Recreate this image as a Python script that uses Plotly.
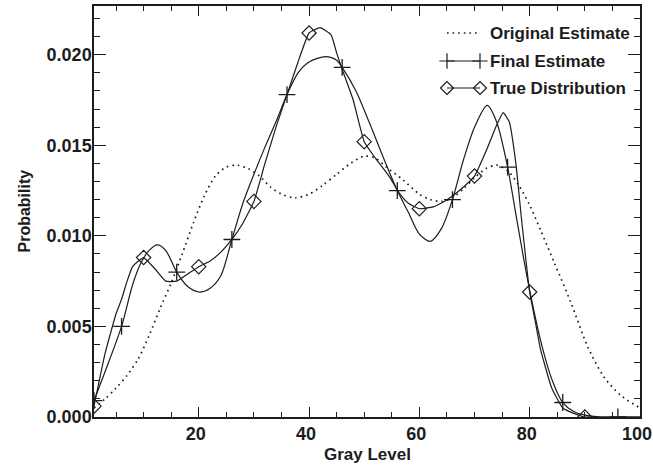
import plotly.graph_objects as go

# ---- data -----------------------------------------------------------------
# Original estimate of the gray-level distribution
orig_x = [1, 3, 5, 7, 9, 11, 13, 15, 17, 19, 21, 23, 25, 27, 29, 31, 33, 35,
          37.5, 40, 42.5, 45, 47.5, 50, 52, 54, 57, 60, 62, 64, 66, 68, 70,
          72, 74, 76, 78, 80, 82, 84.5, 87.5, 90.5, 93.5, 96.5, 100]
orig_p = [0.0005, 0.0010, 0.0016, 0.0023, 0.0032, 0.0045, 0.0060, 0.0074,
          0.0090, 0.0107, 0.0122, 0.0133, 0.0138, 0.0139, 0.0137, 0.0133,
          0.0127, 0.0123, 0.0121, 0.0123, 0.0128, 0.0134, 0.0140, 0.0144,
          0.0143, 0.0138, 0.0131, 0.0123, 0.0120, 0.0119, 0.0121, 0.0126,
          0.0132, 0.0137, 0.0139, 0.0136, 0.0128, 0.0117, 0.0103, 0.0085,
          0.0063, 0.0039, 0.0022, 0.0012, 0.0005]

# Final estimate after iteration
final_x = [1, 3, 6, 8, 9.5, 11, 12.5, 14, 16, 18, 20, 22, 24, 26, 28, 30, 32,
           34, 36, 38, 40, 43, 45, 46, 48.5, 51, 53.5, 56, 58, 60, 62, 64, 66,
           68, 70, 72.3, 74, 76, 77.5, 79, 80, 82, 84, 86, 88, 90, 93, 96, 100]
final_p = [0.0009, 0.0025, 0.0050, 0.0073, 0.0085, 0.0092, 0.0095, 0.0092,
           0.0080, 0.0072, 0.0069, 0.0071, 0.0078, 0.0098, 0.0118, 0.0134,
           0.0149, 0.0163, 0.0178, 0.0190, 0.0196, 0.0199, 0.0197, 0.0193,
           0.0180, 0.0162, 0.0143, 0.0125, 0.0113, 0.0101, 0.0097, 0.0104,
           0.0120, 0.0142, 0.0160, 0.0172, 0.0163, 0.0138, 0.0112, 0.0086,
           0.0070, 0.0042, 0.0021, 0.0008, 0.0003, 0.0001, 0.0, 0.0, 0.0]
final_marks = [1, 6, 16, 26, 36, 46, 56, 66, 76, 86, 96]

# True distribution
true_x = [1, 3, 5, 6, 7, 8, 9, 10, 12, 14, 16, 18, 20, 22, 24, 26, 28, 30, 32,
          34, 36, 38, 40, 42, 44, 45, 46, 48, 50, 52, 54.5, 56.5, 58, 60, 62.5,
          64.5, 66, 68, 70, 72.4, 74, 75.2, 76.3, 77.5, 78.5, 80, 81, 82, 84,
          86, 88, 90, 95, 100]
true_p = [0.0006, 0.0035, 0.0057, 0.0065, 0.0075, 0.0083, 0.0086, 0.0088,
          0.0082, 0.0075, 0.0075, 0.0079, 0.0083, 0.0086, 0.0091, 0.0098,
          0.0107, 0.0119, 0.0140, 0.0160, 0.0178, 0.0196, 0.0212, 0.0215,
          0.0211, 0.0201, 0.0192, 0.0175, 0.0152, 0.0143, 0.0133, 0.0123,
          0.0118, 0.0115, 0.0116, 0.0119, 0.0122, 0.0127, 0.0133, 0.0149,
          0.0161, 0.0168, 0.0163, 0.0140, 0.0110, 0.0069, 0.0053, 0.0037,
          0.0016, 0.0005, 0.0002, 0.0, 0.0, 0.0]
true_marks = [1, 10, 20, 30, 40, 50, 60, 70, 80, 90]

legend_labels = ["Original Estimate", "Final Estimate", "True Distribution"]
x_ticks = [20, 40, 60, 80, 100]
y_ticks = [0.000, 0.005, 0.010, 0.015, 0.020]

# ---- styling ----------------------------------------------------------------
INK = "#1c1c1c"
FONT = "Liberation Sans, Arial, Helvetica, sans-serif"
W, H = 653, 467
M_L, M_R, M_T, M_B = 94, 13, 6, 50


def pick(xs, ys, keep):
    pts = [(x, y) for x, y in zip(xs, ys) if x in keep]
    return [p[0] for p in pts], [p[1] for p in pts]


def bold(s):
    return f"<b>{s}</b>"


fig = go.Figure()

fig.add_trace(go.Scatter(
    x=orig_x, y=orig_p, mode="lines", showlegend=False,
    line=dict(color=INK, width=1.7, dash="1.6px,4px", shape="spline", smoothing=0.8),
))
fig.add_trace(go.Scatter(
    x=final_x, y=final_p, mode="lines", showlegend=False,
    line=dict(color=INK, width=1.2, shape="spline", smoothing=0.8),
))
fig.add_trace(go.Scatter(
    x=true_x, y=true_p, mode="lines", showlegend=False,
    line=dict(color=INK, width=1.2, shape="spline", smoothing=0.4),
))

fx, fy = pick(final_x, final_p, final_marks)
fig.add_trace(go.Scatter(
    x=fx, y=fy, mode="markers", showlegend=False,
    marker=dict(symbol="cross-thin-open", size=12, color=INK, line=dict(color=INK, width=1.3)),
))
tx, ty = pick(true_x, true_p, true_marks)
fig.add_trace(go.Scatter(
    x=tx, y=ty, mode="markers", showlegend=False,
    marker=dict(symbol="diamond-open", size=11, color=INK, line=dict(color=INK, width=1.2)),
))

# ---- hand-drawn key on an overlay axis measured in pixels -------------------
key_rows = [33, 61, 88]
key_x0, key_x1, key_text_x = 447, 480, 488
key_styles = [
    dict(line=dict(color=INK, width=1.7, dash="1.6px,4px"), mode="lines"),
    dict(line=dict(color=INK, width=1.0), mode="lines+markers",
         marker=dict(symbol="cross-thin-open", size=11, line=dict(color=INK, width=1.2))),
    dict(line=dict(color=INK, width=1.2), mode="lines+markers",
         marker=dict(symbol="diamond-open", size=10, color=INK, line=dict(color=INK, width=1.2))),
]
for row, style in zip(key_rows, key_styles):
    fig.add_trace(go.Scatter(x=[key_x0, key_x1], y=[row, row], xaxis="x2", yaxis="y2",
                             showlegend=False, hoverinfo="skip", cliponaxis=False, **style))

for row, label in zip(key_rows, legend_labels):
    fig.add_annotation(x=key_text_x, y=row, xref="x2", yref="y2", text=bold(label),
                       showarrow=False, xanchor="left", yanchor="middle",
                       font=dict(family=FONT, size=17, color=INK))

axis_common = dict(
    showgrid=False, zeroline=False, showline=True, linecolor=INK, linewidth=1.5,
    mirror="ticks", ticks="inside", tickcolor=INK, tickwidth=1.2,
    ticklabeloverflow="allow", automargin=False,
    tickfont=dict(family=FONT, size=18, color=INK, weight="bold"),
)

fig.update_layout(
    width=W, height=H,
    margin=dict(l=M_L, r=M_R, t=M_T, b=M_B, pad=0, autoexpand=False),
    paper_bgcolor="white", plot_bgcolor="white",
    font=dict(family=FONT, color=INK),
    xaxis=dict(range=[1, 100.01], tickmode="array", tickvals=x_ticks, ticklen=10,
               ticklabelshift=-3,
               minor=dict(dtick=5, tick0=0, ticklen=5, ticks="inside", tickcolor=INK, tickwidth=1),
               **axis_common),
    yaxis=dict(range=[0, 0.02269], tickmode="array", tickvals=y_ticks,
               ticktext=[f"{v:.3f}" for v in y_ticks], ticklen=12, ticklabelstandoff=-3,
               minor=dict(dtick=0.001, tick0=0, ticklen=6, ticks="inside", tickcolor=INK, tickwidth=1),
               **axis_common),
    xaxis2=dict(overlaying="x", range=[M_L, W - M_R], visible=False, fixedrange=True),
    yaxis2=dict(overlaying="y", range=[H - M_B, M_T], visible=False, fixedrange=True),
)

fig.add_annotation(text=bold("Gray Level"), xref="paper", yref="paper", x=0.5,
                   y=(H - M_B - 454) / (H - M_B - M_T), showarrow=False,
                   xanchor="center", yanchor="middle",
                   font=dict(family=FONT, size=17, color=INK))
fig.add_annotation(text=bold("Probability"), xref="paper", yref="paper",
                   x=(24 - M_L) / (W - M_L - M_R), y=0.5, textangle=-90, showarrow=False,
                   xanchor="center", yanchor="middle",
                   font=dict(family=FONT, size=16, color=INK))

fig.write_html("out.html")
